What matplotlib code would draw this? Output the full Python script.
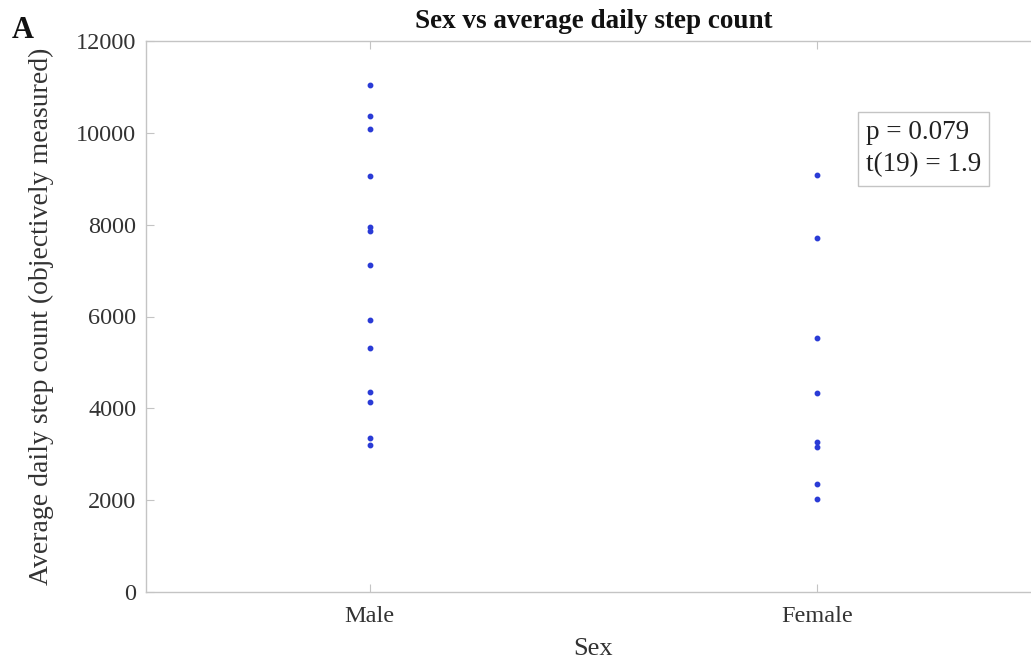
import matplotlib
matplotlib.use("Agg")
import matplotlib.pyplot as plt

# Data
categories = ["Male", "Female"]
male_steps = [11040, 10370, 10080, 9060, 7950, 7860, 7120, 5920, 5320, 4360, 4140, 3350, 3200]
female_steps = [9080, 7710, 5525, 4330, 3270, 3150, 2350, 2020]
y_ticks = [0, 2000, 4000, 6000, 8000, 10000, 12000]
stats_text = "p = 0.079\nt(19) = 1.9"

plt.rcParams['font.family'] = ['Liberation Serif', 'DejaVu Serif']

fig = plt.figure(figsize=(10.31, 6.6), dpi=100)
W, H = 1031, 660
left, right, top, bottom = 146, 1041, 41, 592
ax = fig.add_axes([left / W, 1 - bottom / H, (right - left) / W, (bottom - top) / H])

dot_color = '#2a3bd6'
ax.plot([1] * len(male_steps), male_steps, 'o', ms=3.2, color=dot_color, mec=dot_color)
ax.plot([2] * len(female_steps), female_steps, 'o', ms=3.2, color=dot_color, mec=dot_color)

ax.set_xlim(0.5, 2.5)
ax.set_ylim(0, 12000)
ax.set_xticks([1, 2])
ax.set_xticklabels(categories)
ax.set_yticks(y_ticks)
ax.set_yticklabels([str(v) for v in y_ticks])

spine_color = '#c4c4c4'
for s in ax.spines.values():
    s.set_color(spine_color)
    s.set_linewidth(1.0)
ax.tick_params(direction='in', length=6, width=0.8, color=spine_color,
               top=True, right=True, labelsize=17.5, labelcolor='#333333')
ax.tick_params(axis='x', pad=10)
ax.tick_params(axis='y', pad=7)

ax.set_xlabel("Sex", fontsize=19, color='#333333', labelpad=8)
ax.set_ylabel("Average daily step count (objectively measured)", fontsize=20,
              color='#333333', labelpad=16)
ax.set_title("Sex vs average daily step count", fontsize=19.5, fontweight='bold',
             color='#111111', pad=9)

fig.text(12 / W, 1 - 38 / H, "A", fontsize=22, fontweight='bold', color='#111111')

ax.text(866 / W, 1 - 120 / H, stats_text, transform=fig.transFigure, fontsize=19.5,
        color='#222222', va='top', ha='left', linespacing=1.4,
        bbox=dict(boxstyle='square,pad=0.3', fc='white', ec='#c4c4c4', lw=1.0))

fig.savefig("out.png", dpi=100)
